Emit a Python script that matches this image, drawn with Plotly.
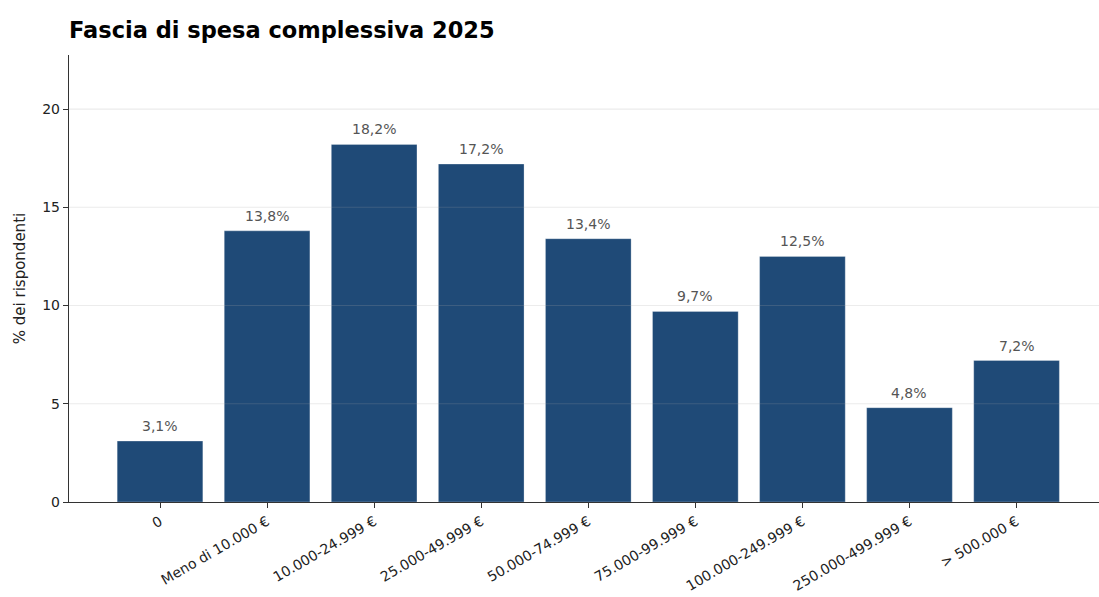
import plotly.graph_objects as go

# Spending brackets and share of respondents (%)
categories = [
    "0",
    "Meno di 10.000 €",
    "10.000-24.999 €",
    "25.000-49.999 €",
    "50.000-74.999 €",
    "75.000-99.999 €",
    "100.000-249.999 €",
    "250.000-499.999 €",
    "> 500.000 €",
]
shares = [3.1, 13.8, 18.2, 17.2, 13.4, 9.7, 12.5, 4.8, 7.2]
y_ticks = [0, 5, 10, 15, 20]

W, H = 1099, 597
FONT = "DejaVu Sans"
BAR_COLOR = "#1f4a77"

labels = [f"{v:.1f}%".replace(".", ",") for v in shares]
x_pos = list(range(len(categories)))

fig = go.Figure(
    go.Bar(
        x=x_pos,
        y=shares,
        width=0.8,
        marker=dict(color=BAR_COLOR, line=dict(color="rgba(255,255,255,0.35)", width=0.8)),
        hovertemplate="%{y:.1f}%<extra></extra>",
    )
)

# value labels just above each bar
for xp, v, lab in zip(x_pos, shares, labels):
    fig.add_annotation(
        x=xp, y=v, text=lab, showarrow=False,
        xanchor="center", yanchor="bottom", yshift=5,
        font=dict(family=FONT, size=14, color="#555555"),
    )

# faint horizontal grid drawn over the bars
for t in y_ticks[1:]:
    fig.add_shape(
        type="line", xref="paper", x0=0, x1=1, yref="y", y0=t, y1=t,
        line=dict(color="rgba(170,170,170,0.22)", width=1.2), layer="above",
    )

fig.update_layout(
    width=W,
    height=H,
    margin=dict(l=69, r=0, t=55, b=95),
    paper_bgcolor="white",
    plot_bgcolor="white",
    showlegend=False,
    font=dict(family=FONT, size=14, color="#222222"),
    title=dict(
        text="<b>Fascia di spesa complessiva 2025</b>",
        font=dict(family=FONT, size=22.5, color="#000000"),
        xref="container", yref="container",
        x=69 / W, xanchor="left",
        y=1 - 30 / H, yanchor="middle",
    ),
)

fig.update_xaxes(
    range=[-0.85, 8.77],
    tickmode="array",
    tickvals=x_pos,
    ticktext=categories,
    tickangle=-30,
    tickfont=dict(family=FONT, size=14, color="#222222"),
    ticks="outside",
    ticklen=5,
    tickcolor="#333333",
    showline=True,
    linecolor="#333333",
    linewidth=1.4,
    showgrid=False,
    zeroline=False,
    automargin=False,
)

fig.update_yaxes(
    range=[0, 22.75],
    tickmode="array",
    tickvals=y_ticks,
    ticks="outside",
    ticklen=5,
    tickcolor="#333333",
    tickfont=dict(family=FONT, size=14, color="#222222"),
    showline=True,
    linecolor="#333333",
    linewidth=1.4,
    showgrid=False,
    zeroline=False,
    automargin=False,
    title=dict(text="% dei rispondenti", font=dict(family=FONT, size=15, color="#222222"), standoff=12),
)

fig.write_html("out.html")
